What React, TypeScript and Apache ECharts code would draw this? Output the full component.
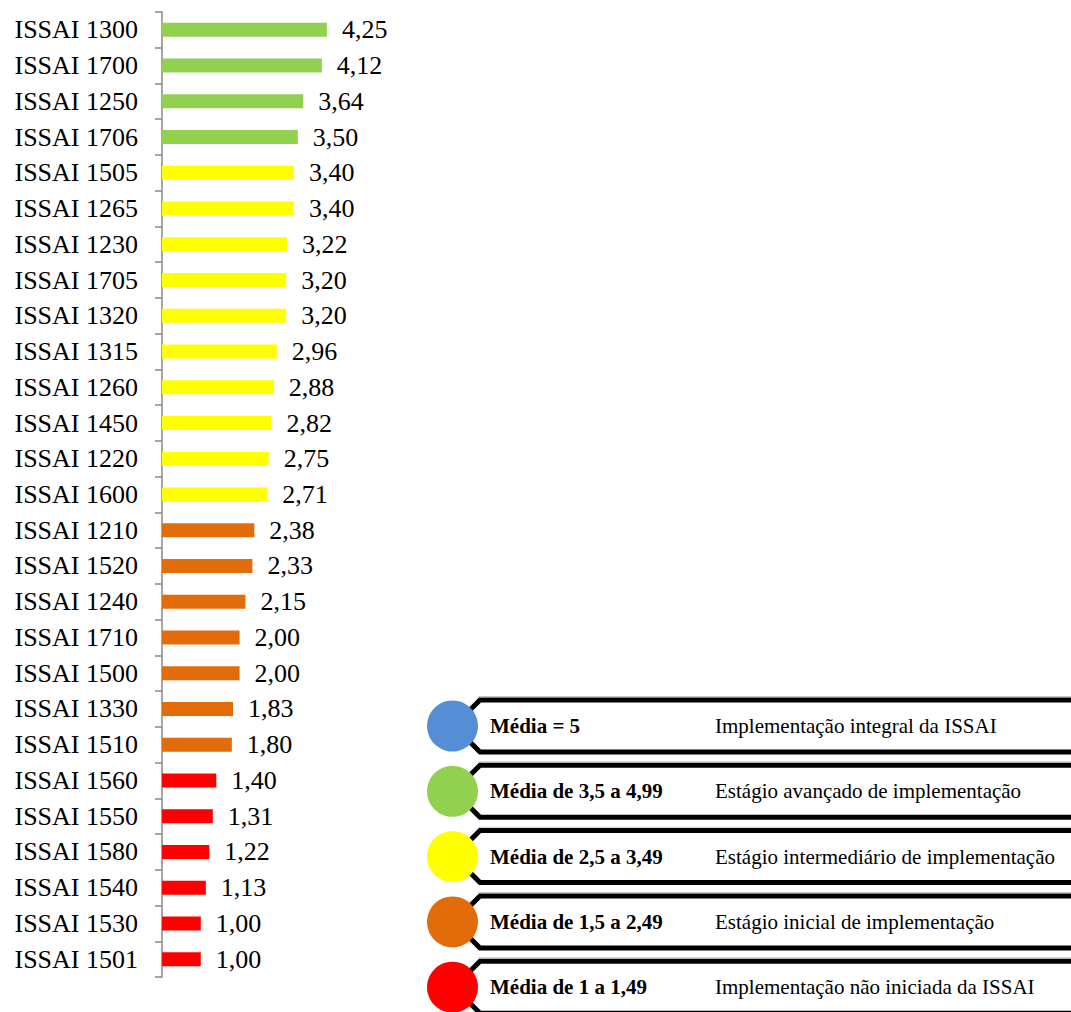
import React, { useEffect, useRef } from "react";
import * as echarts from "echarts";

// ISSAI standards and their average implementation score
const categories = [
  "ISSAI 1300", "ISSAI 1700", "ISSAI 1250", "ISSAI 1706", "ISSAI 1505",
  "ISSAI 1265", "ISSAI 1230", "ISSAI 1705", "ISSAI 1320", "ISSAI 1315",
  "ISSAI 1260", "ISSAI 1450", "ISSAI 1220", "ISSAI 1600", "ISSAI 1210",
  "ISSAI 1520", "ISSAI 1240", "ISSAI 1710", "ISSAI 1500", "ISSAI 1330",
  "ISSAI 1510", "ISSAI 1560", "ISSAI 1550", "ISSAI 1580", "ISSAI 1540",
  "ISSAI 1530", "ISSAI 1501",
];
const scores = [
  4.25, 4.12, 3.64, 3.5, 3.4, 3.4, 3.22, 3.2, 3.2, 2.96, 2.88, 2.82, 2.75,
  2.71, 2.38, 2.33, 2.15, 2.0, 2.0, 1.83, 1.8, 1.4, 1.31, 1.22, 1.13, 1.0, 1.0,
];

// Implementation bands (lower bound of each band, highest first)
const bandMins = [5, 3.5, 2.5, 1.5, 1];
const bandColors = ["#558ED5", "#92D050", "#FFFF00", "#E36C0A", "#FF0000"];
const bandLabels = [
  "Média = 5",
  "Média de 3,5 a 4,99",
  "Média de 2,5 a 3,49",
  "Média de 1,5 a 2,49",
  "Média de 1 a 1,49",
];
const bandDescriptions = [
  "Implementação integral da ISSAI",
  "Estágio avançado de implementação",
  "Estágio intermediário de implementação",
  "Estágio inicial de implementação",
  "Implementação não iniciada da ISSAI",
];

const SERIF = '"Liberation Serif", "Times New Roman", serif';

function bandColor(v: number): string {
  for (let i = 0; i < bandMins.length; i++) {
    if (v >= bandMins[i]) return bandColors[i];
  }
  return bandColors[bandColors.length - 1];
}

function buildLegend(): any[] {
  const els: any[] = [];
  const firstTop = 700;
  const step = 65.3;
  const boxH = 52;
  bandLabels.forEach((label, i) => {
    const top = firstTop + i * step;
    const mid = top + boxH / 2;
    // faint shadow above the frame
    els.push({
      type: "polyline",
      shape: { points: [[478, top - 3.5], [1080, top - 3.5]] },
      style: { stroke: "#C8C8C8", lineWidth: 1, fill: null },
      z: 1,
    });
    els.push({
      type: "polygon",
      shape: {
        points: [
          [454, mid],
          [480, top],
          [1090, top],
          [1090, top + boxH],
          [480, top + boxH],
        ],
      },
      style: { fill: "#FFFFFF", stroke: "#000000", lineWidth: 5, lineJoin: "miter" },
      z: 2,
    });
    els.push({
      type: "circle",
      shape: { cx: 452.5, cy: mid, r: 25.5 },
      style: { fill: bandColors[i] },
      z: 3,
    });
    els.push({
      type: "text",
      style: {
        text: label,
        x: 490,
        y: mid,
        fill: "#000",
        font: `bold 21px ${SERIF}`,
        verticalAlign: "middle",
      },
      z: 4,
    });
    els.push({
      type: "text",
      style: {
        text: bandDescriptions[i],
        x: 715,
        y: mid,
        fill: "#000",
        font: `21px ${SERIF}`,
        verticalAlign: "middle",
      },
      z: 4,
    });
  });
  return els;
}

export default function App() {
  const ref = useRef<HTMLDivElement>(null);

  useEffect(() => {
    if (!ref.current) return;
    const chart = echarts.init(ref.current, undefined, { renderer: "svg" });
    chart.setOption({
      animation: false,
      backgroundColor: "#FFFFFF",
      grid: { left: 162, top: 12, height: 965, width: 388, containLabel: false },
      xAxis: { type: "value", min: 0, max: 10, show: false },
      yAxis: {
        type: "category",
        inverse: true,
        data: categories,
        axisLine: { show: true, lineStyle: { color: "#888888", width: 1.5 } },
        axisTick: { show: true, length: 7, lineStyle: { color: "#888888", width: 1.5 } },
        axisLabel: { color: "#000", fontSize: 26, fontFamily: SERIF, margin: 24 },
        splitLine: { show: false },
      },
      series: [
        {
          type: "bar",
          data: scores.map((v) => ({ value: v, itemStyle: { color: bandColor(v) } })),
          barWidth: 14,
          label: {
            show: true,
            position: "right",
            distance: 15,
            color: "#000",
            fontSize: 26,
            fontFamily: SERIF,
            formatter: (p: any) => Number(p.value).toFixed(2).replace(".", ","),
          },
        },
      ],
      graphic: buildLegend(),
    });
    return () => chart.dispose();
  }, []);

  return (
    <div
      ref={ref}
      style={{ position: "absolute", left: 0, top: 0, width: 1071, height: 1012 }}
    />
  );
}
